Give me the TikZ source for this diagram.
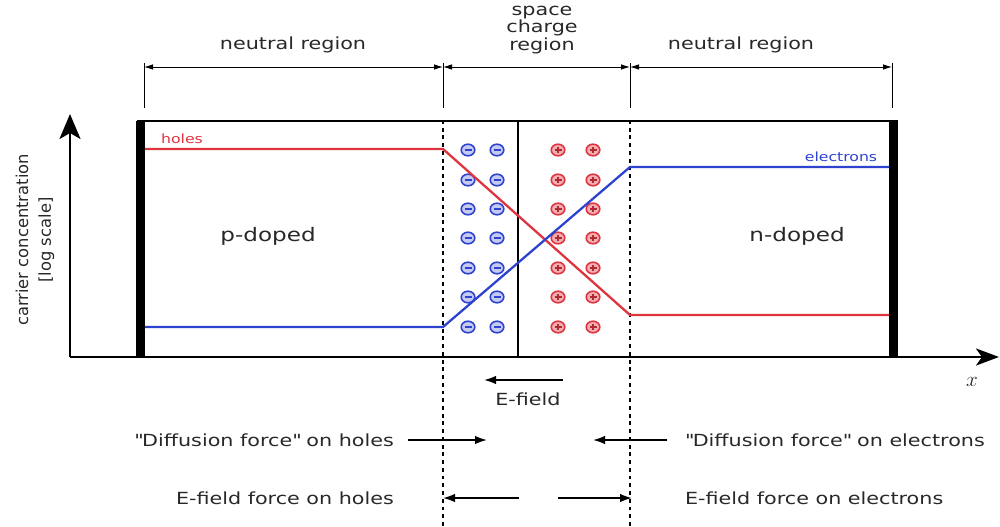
\documentclass[tikz,border=0pt]{standalone}
\usepackage{fontspec}
\setmainfont{DejaVu Sans}[FakeStretch=1.24]
\newfontfamily\axisfont{DejaVu Sans}
\usetikzlibrary{arrows.meta, positioning, calc}
\definecolor{holered}{RGB}{222,52,62}
\definecolor{elecblue}{RGB}{46,66,208}
\definecolor{inkgray}{RGB}{40,40,40}

\begin{document}
\begin{tikzpicture}[x=0.02cm, y=-0.02cm,
  every node/.style={inner sep=1pt, text=inkgray, font=\fontsize{9.5}{10}\selectfont},
  dimline/.style={line width=0.5pt, {Latex[length=1.8mm,width=1.1mm]}-{Latex[length=1.8mm,width=1.1mm]}},
  force/.style={line width=1pt, -{Latex[length=2.4mm,width=1.7mm]}},
  bound/.style={line width=0.6pt, dash pattern=on 2.2pt off 2.2pt},
  conc/.style={line width=1.3pt}]
  \useasboundingbox (0,0) rectangle (1000,527);
  % axes
  \coordinate (origin) at (70,357);
  \coordinate (ytip) at (70,114);
  \coordinate (xtip) at (999,357);
  \draw[line width=1.6pt, -{Stealth[length=0.5cm,width=0.42cm,inset=0.12cm]}] (origin) -- (ytip);
  \draw[line width=1.6pt, -{Stealth[length=0.46cm,width=0.34cm,inset=0.12cm]}] (origin) -- (xtip);
  \node[font=\large] (xlab) at (972,382) {$x$};
  \node[rotate=90, align=center, font=\axisfont\fontsize{9.3}{13}\selectfont] (ylab) at (35,240)
    {carrier concentration\\{}[log scale]};
  % sample box with contacts
  \draw[line width=1.7pt] (137,121) -- (898,121);
  \fill (136,121) rectangle (145,357);
  \fill (889,121) rectangle (898,357);
  \draw[line width=1.3pt] (518,121) -- (518,357);
  % region boundaries
  \foreach \x/\n in {144/a, 443/b, 630/c, 892/d} {
    \coordinate (d\n) at (\x,67);
    \draw[line width=0.5pt] (\x,63) -- (\x,108);
  }
  \draw[bound] (443,120) -- (443,527);
  \draw[bound] (630,120) -- (630,527);
  \draw[dimline] (da) -- (db);
  \draw[dimline] (db) -- (dc);
  \draw[dimline] (dc) -- (dd);
  \node (nleft) at (293,45) {neutral region};
  \node[align=center, font=\fontsize{9.5}{8.6}\selectfont] (scr) at (542,30) {space\\charge\\region};
  \node (nright) at (741,45) {neutral region};
  % fixed charges
  \foreach \r in {150,180,209,238,268,297,327} {
    \foreach \c in {468,497} {
      \draw[elecblue, fill=elecblue!28, line width=0.9pt] (\c,\r) ellipse [x radius=6.8, y radius=5.8];
      \draw[elecblue, line width=0.9pt] (\c-3.5,\r) -- (\c+3.5,\r);
    }
    \foreach \c in {558,593} {
      \draw[holered, fill=holered!40, line width=0.9pt] (\c,\r) ellipse [x radius=6.8, y radius=5.8];
      \draw[holered!80!black, line width=0.8pt] (\c-3.5,\r) -- (\c+3.5,\r) (\c,\r-3) -- (\c,\r+3);
    }
  }
  % carrier concentrations
  \draw[conc, holered] (145,149) -- (443,149) -- (630,315) -- (889,315);
  \draw[conc, elecblue] (145,327) -- (443,327) -- (630,167) -- (889,167);
  \node[text=holered, font=\fontsize{7.2}{8}\selectfont] (holes) at (182,139) {holes};
  \node[text=elecblue, font=\fontsize{7.2}{8}\selectfont] (elec) at (841,157) {electrons};
  \node[font=\fontsize{10.6}{12}\selectfont] (pdop) at (268,236) {p-doped};
  \node[font=\fontsize{10.6}{12}\selectfont] (ndop) at (797,236) {n-doped};
  % field and forces
  \coordinate (ef1) at (563,380);
  \coordinate (ef2) at (484,380);
  \draw[force] (ef1) -- (ef2);
  \node (efield) at (528,399) {E-field};
  \node[anchor=east] (dfh) at (396,440) {\textquotedbl Diffusion force\textquotedbl{} on holes};
  \coordinate (dfh1) at (408,440);
  \coordinate (dfh2) at (487,440);
  \draw[force] (dfh1) -- (dfh2);
  \node[anchor=west] (dfe) at (683,440) {\textquotedbl Diffusion force\textquotedbl{} on electrons};
  \coordinate (dfe1) at (667,440);
  \coordinate (dfe2) at (593,440);
  \draw[force] (dfe1) -- (dfe2);
  \node[anchor=east] (efh) at (396,498) {E-field force on holes};
  \coordinate (efh1) at (519,498);
  \coordinate (efh2) at (443,498);
  \draw[force] (efh1) -- (efh2);
  \node[anchor=west] (efe) at (683,498) {E-field force on electrons};
  \coordinate (efe1) at (558,498);
  \coordinate (efe2) at (632,498);
  \draw[force] (efe1) -- (efe2);
\end{tikzpicture}
\end{document}
